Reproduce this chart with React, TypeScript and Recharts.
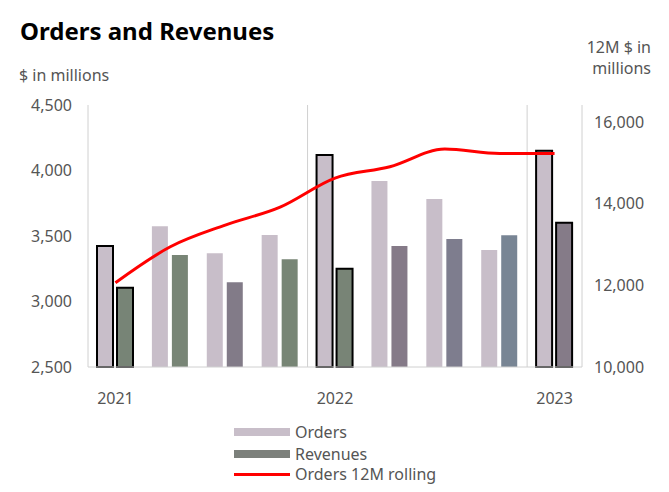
import { ComposedChart, Bar, Line, XAxis, YAxis, ReferenceLine, Cell } from 'recharts';

const quarters = ['Q1 2021', 'Q2 2021', 'Q3 2021', 'Q4 2021', 'Q1 2022', 'Q2 2022', 'Q3 2022', 'Q4 2022', 'Q1 2023'];
const orders = [3424, 3575, 3368, 3508, 4118, 3920, 3782, 3393, 4151];
const revenues = [3105, 3355, 3147, 3322, 3250, 3424, 3477, 3505, 3602];
const rolling12M = [12065, 12946, 13478, 13918, 14629, 14906, 15339, 15229, 15233];
const yearLabels: Record<string, string> = { 'Q1 2021': '2021', 'Q1 2022': '2022', 'Q1 2023': '2023' };
const leftTicks = [2500, 3000, 3500, 4000, 4500];
const rightTicks = [10000, 12000, 14000, 16000];

const revenueTints = ['#778476', '#788576', '#827b88', '#778575', '#788476', '#857a88', '#7e7d8e', '#788594', '#857b88'];
const outlined = [0, 4, 8];

const data = quarters.map((q, i) => ({
  q,
  orders: orders[i],
  revenues: revenues[i],
  rolling: rolling12M[i],
}));

const font = '"Noto Sans", "Open Sans", sans-serif';
const grey = '#555';
const axisGrey = '#d0d0d0';

const fmt = (v: number) => v.toLocaleString('en-US');

export default function App() {
  return (
    <div style={{ position: 'absolute', left: 0, top: 0, width: 669, height: 492, background: '#fff', fontFamily: font }}>
      <div style={{ position: 'absolute', left: 20, top: 14, fontSize: 24, fontWeight: 700, color: '#000' }}>
        Orders and Revenues
      </div>
      <div style={{ position: 'absolute', left: 19, top: 64, fontSize: 16, color: grey }}>$ in millions</div>
      <div style={{ position: 'absolute', right: 18, top: 37, fontSize: 16, color: grey, textAlign: 'right', lineHeight: '21px' }}>
        12M $ in<br />millions
      </div>

      <ComposedChart
        width={669}
        height={492}
        data={data}
        margin={{ top: 105, right: 0, left: 0, bottom: 0 }}
        barGap={4}
        barSize={16}
        style={{ position: 'absolute', left: 0, top: 0 }}
      >
        <XAxis
          dataKey="q"
          height={125}
          stroke={axisGrey}
          tickLine={false}
          interval={0}
          tick={{ fill: grey, fontSize: 16, fontFamily: font, dy: 18 }}
          tickFormatter={(v: string) => yearLabels[v] || ''}
        />
        <YAxis
          yAxisId="left"
          width={88}
          domain={[2500, 4500]}
          ticks={leftTicks}
          stroke={axisGrey}
          tickLine={false}
          tick={{ fill: grey, fontSize: 16, fontFamily: font, dx: -8 }}
          tickFormatter={fmt}
        />
        <YAxis
          yAxisId="right"
          orientation="right"
          width={87}
          domain={[10000, 16420]}
          ticks={rightTicks}
          stroke={axisGrey}
          tickLine={false}
          tick={{ fill: grey, fontSize: 16, fontFamily: font, dx: 4 }}
          tickFormatter={fmt}
        />
        <ReferenceLine x="Q1 2022" yAxisId="left" position="start" stroke={axisGrey} strokeWidth={1} />
        <ReferenceLine x="Q1 2023" yAxisId="left" position="start" stroke={axisGrey} strokeWidth={1} />
        <Bar dataKey="orders" yAxisId="left" fill="#c8bec9" isAnimationActive={false}>
          {data.map((d, i) => (
            <Cell
              key={d.q}
              fill="#c8bec9"
              stroke={outlined.includes(i) ? '#000' : 'none'}
              strokeWidth={outlined.includes(i) ? 2 : 0}
            />
          ))}
        </Bar>
        <Bar dataKey="revenues" yAxisId="left" fill="#7c807b" isAnimationActive={false}>
          {data.map((d, i) => (
            <Cell
              key={d.q}
              fill={revenueTints[i]}
              stroke={outlined.includes(i) ? '#000' : 'none'}
              strokeWidth={outlined.includes(i) ? 2 : 0}
            />
          ))}
        </Bar>
        <Line
          dataKey="rolling"
          yAxisId="right"
          type="monotone"
          stroke="#ff0000"
          strokeWidth={3}
          dot={false}
          activeDot={false}
          isAnimationActive={false}
        />
      </ComposedChart>

      <div style={{ position: 'absolute', left: 234, top: 428, width: 56, height: 8, background: '#c8bec9' }} />
      <div style={{ position: 'absolute', left: 295, top: 421, fontSize: 16, color: grey }}>Orders</div>
      <div style={{ position: 'absolute', left: 234, top: 450, width: 56, height: 8, background: '#7c807b' }} />
      <div style={{ position: 'absolute', left: 295, top: 443, fontSize: 16, color: grey }}>Revenues</div>
      <div style={{ position: 'absolute', left: 234, top: 473, width: 56, height: 3, background: '#ff0000' }} />
      <div style={{ position: 'absolute', left: 295, top: 463, fontSize: 16, color: grey }}>Orders 12M rolling</div>
    </div>
  );
}
